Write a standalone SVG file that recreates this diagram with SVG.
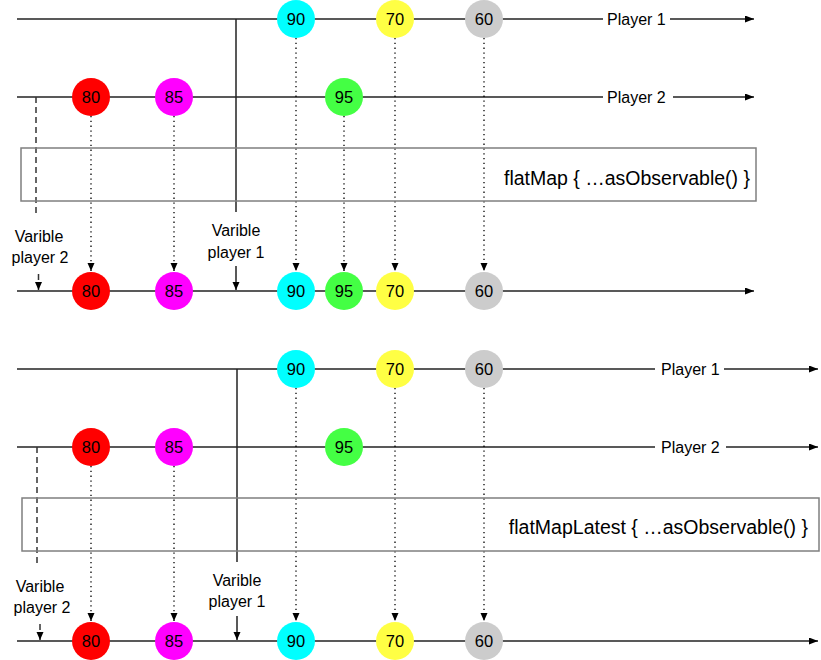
<svg xmlns="http://www.w3.org/2000/svg" width="821" height="660" viewBox="0 0 821 660">
<defs>
<marker id="ah" markerWidth="10" markerHeight="8" refX="9" refY="3.5" orient="auto" markerUnits="userSpaceOnUse"><path d="M0,0 L9,3.5 L0,7 z" fill="#000"/></marker>
<marker id="as" markerWidth="8" markerHeight="8" refX="8" refY="3.5" orient="auto" markerUnits="userSpaceOnUse"><path d="M0,0 L8,3.5 L0,7 z" fill="#000"/></marker>
</defs>
<style>
.ln{stroke:#222;stroke-width:1.5;fill:none}
.dot{stroke:#000;stroke-width:1.3;stroke-dasharray:1.3 3.5;fill:none}
.dash{stroke:#333;stroke-width:1.5;stroke-dasharray:6 4;fill:none}
.box{fill:none;stroke:#7f7f7f;stroke-width:1.5}
.lbl{font-family:"Liberation Sans",Arial,sans-serif;font-size:16px;fill:#000}
.num{font-family:"Liberation Sans",Arial,sans-serif;font-size:16.5px;fill:#000;text-anchor:middle}
.op{font-family:"Liberation Sans",Arial,sans-serif;font-size:19.5px;fill:#000;text-anchor:end}
.mid{text-anchor:middle}
.red{fill:#ff0000}.mag{fill:#ff00ff}.cya{fill:#00ffff}.grn{fill:#44ff44}.yel{fill:#ffff44}.gry{fill:#cccccc}
</style>

<g id="connectors">
  <!-- top section -->
  <line class="ln" x1="17" y1="19" x2="603" y2="19"/>
  <line class="ln" x1="670" y1="19" x2="754" y2="19" marker-end="url(#ah)"/>
  <line class="ln" x1="17" y1="97" x2="603" y2="97"/>
  <line class="ln" x1="673" y1="97" x2="754" y2="97" marker-end="url(#ah)"/>
  <line class="ln" x1="17" y1="291" x2="754" y2="291" marker-end="url(#ah)"/>
  <line class="ln" x1="236" y1="19" x2="236" y2="212"/>
  <line class="ln" x1="236" y1="266" x2="236" y2="290" marker-end="url(#as)"/>
  <line class="dash" x1="36" y1="97" x2="36" y2="214"/>
  <line class="dash" x1="38.5" y1="274" x2="38.5" y2="290" marker-end="url(#as)"/>
  <line class="dot" x1="296" y1="38" x2="296" y2="271" marker-end="url(#as)"/>
  <line class="dot" x1="395" y1="38" x2="395" y2="271" marker-end="url(#as)"/>
  <line class="dot" x1="484" y1="38" x2="484" y2="271" marker-end="url(#as)"/>
  <line class="dot" x1="91" y1="116" x2="91" y2="271" marker-end="url(#as)"/>
  <line class="dot" x1="174" y1="116" x2="174" y2="271" marker-end="url(#as)"/>
  <line class="dot" x1="344" y1="116" x2="344" y2="271" marker-end="url(#as)"/>
  <!-- bottom section -->
  <line class="ln" x1="17" y1="369" x2="655" y2="369"/>
  <line class="ln" x1="724" y1="369" x2="818" y2="369" marker-end="url(#ah)"/>
  <line class="ln" x1="17" y1="447" x2="655" y2="447"/>
  <line class="ln" x1="726" y1="447" x2="818" y2="447" marker-end="url(#ah)"/>
  <line class="ln" x1="17" y1="641" x2="818" y2="641" marker-end="url(#ah)"/>
  <line class="ln" x1="237" y1="369" x2="237" y2="562"/>
  <line class="ln" x1="237" y1="616" x2="237" y2="640" marker-end="url(#as)"/>
  <line class="dash" x1="37" y1="447" x2="37" y2="564"/>
  <line class="dash" x1="40" y1="624" x2="40" y2="640" marker-end="url(#as)"/>
  <line class="dot" x1="296" y1="388" x2="296" y2="621" marker-end="url(#as)"/>
  <line class="dot" x1="395" y1="388" x2="395" y2="621" marker-end="url(#as)"/>
  <line class="dot" x1="484" y1="388" x2="484" y2="621" marker-end="url(#as)"/>
  <line class="dot" x1="91" y1="466" x2="91" y2="621" marker-end="url(#as)"/>
  <line class="dot" x1="174" y1="466" x2="174" y2="621" marker-end="url(#as)"/>
</g>

<g id="op-flatMap">
  <rect class="box" x="21" y="148" width="735" height="53"/>
  <text class="op" x="750" y="185">flatMap { …asObservable() }</text>
</g>
<g id="op-flatMapLatest">
  <rect class="box" x="22" y="498" width="797" height="53"/>
  <text class="op" x="808" y="534">flatMapLatest { …asObservable() }</text>
</g>

<g id="labels">
  <text class="lbl" x="607" y="24.5">Player 1</text>
  <text class="lbl" x="607" y="102.5">Player 2</text>
  <text class="lbl mid" x="39" y="241.5">Varible</text>
  <text class="lbl mid" x="40" y="262.5">player 2</text>
  <text class="lbl mid" x="236" y="235.5">Varible</text>
  <text class="lbl mid" x="236" y="257.5">player 1</text>
  <text class="lbl" x="661" y="374.5">Player 1</text>
  <text class="lbl" x="661" y="452.5">Player 2</text>
  <text class="lbl mid" x="40" y="591.5">Varible</text>
  <text class="lbl mid" x="42" y="612.5">player 2</text>
  <text class="lbl mid" x="237" y="585.5">Varible</text>
  <text class="lbl mid" x="237" y="606.5">player 1</text>
</g>

<g id="top-p1-90"><circle class="cya" cx="296" cy="19" r="19"/><text class="num" x="296" y="25">90</text></g>
<g id="top-p1-70"><circle class="yel" cx="395" cy="19" r="19"/><text class="num" x="395" y="25">70</text></g>
<g id="top-p1-60"><circle class="gry" cx="484" cy="19" r="19"/><text class="num" x="484" y="25">60</text></g>
<g id="top-p2-80"><circle class="red" cx="91" cy="97" r="19"/><text class="num" x="91" y="103">80</text></g>
<g id="top-p2-85"><circle class="mag" cx="174" cy="97" r="19"/><text class="num" x="174" y="103">85</text></g>
<g id="top-p2-95"><circle class="grn" cx="344" cy="97" r="19"/><text class="num" x="344" y="103">95</text></g>
<g id="top-out-80"><circle class="red" cx="91" cy="291" r="19"/><text class="num" x="91" y="297">80</text></g>
<g id="top-out-85"><circle class="mag" cx="174" cy="291" r="19"/><text class="num" x="174" y="297">85</text></g>
<g id="top-out-90"><circle class="cya" cx="296" cy="291" r="19"/><text class="num" x="296" y="297">90</text></g>
<g id="top-out-95"><circle class="grn" cx="344" cy="291" r="19"/><text class="num" x="344" y="297">95</text></g>
<g id="top-out-70"><circle class="yel" cx="395" cy="291" r="19"/><text class="num" x="395" y="297">70</text></g>
<g id="top-out-60"><circle class="gry" cx="484" cy="291" r="19"/><text class="num" x="484" y="297">60</text></g>

<g id="bot-p1-90"><circle class="cya" cx="296" cy="369" r="19"/><text class="num" x="296" y="375">90</text></g>
<g id="bot-p1-70"><circle class="yel" cx="395" cy="369" r="19"/><text class="num" x="395" y="375">70</text></g>
<g id="bot-p1-60"><circle class="gry" cx="484" cy="369" r="19"/><text class="num" x="484" y="375">60</text></g>
<g id="bot-p2-80"><circle class="red" cx="91" cy="447" r="19"/><text class="num" x="91" y="453">80</text></g>
<g id="bot-p2-85"><circle class="mag" cx="174" cy="447" r="19"/><text class="num" x="174" y="453">85</text></g>
<g id="bot-p2-95"><circle class="grn" cx="344" cy="447" r="19"/><text class="num" x="344" y="453">95</text></g>
<g id="bot-out-80"><circle class="red" cx="91" cy="641" r="19"/><text class="num" x="91" y="647">80</text></g>
<g id="bot-out-85"><circle class="mag" cx="174" cy="641" r="19"/><text class="num" x="174" y="647">85</text></g>
<g id="bot-out-90"><circle class="cya" cx="296" cy="641" r="19"/><text class="num" x="296" y="647">90</text></g>
<g id="bot-out-70"><circle class="yel" cx="395" cy="641" r="19"/><text class="num" x="395" y="647">70</text></g>
<g id="bot-out-60"><circle class="gry" cx="484" cy="641" r="19"/><text class="num" x="484" y="647">60</text></g>
</svg>
